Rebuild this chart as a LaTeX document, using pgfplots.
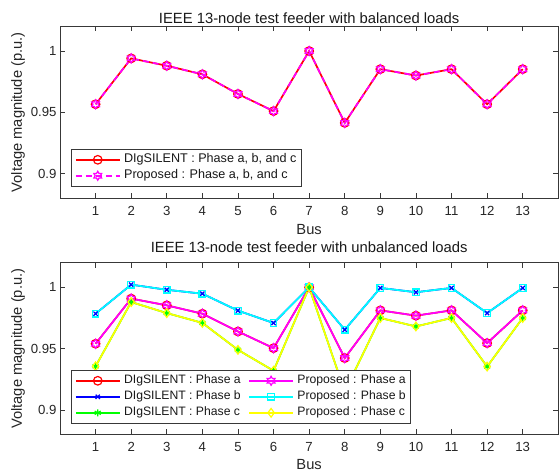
\documentclass[border=0pt]{standalone}
\usepackage{fontspec}
\setmainfont{Liberation Sans}
\usepackage{pgfplots}
\usepackage{pgfplotstable}
\pgfplotsset{compat=1.18}

\definecolor{mred}{rgb}{1,0,0}
\definecolor{mblue}{rgb}{0,0,1}
\definecolor{mgreen}{rgb}{0,1,0}
\definecolor{mmag}{rgb}{1,0,1}
\definecolor{mcyan}{rgb}{0,1,1}
\definecolor{myel}{rgb}{1,1,0}

\pgfdeclareplotmark{hexagram}{%
  \pgfpathmoveto{\pgfpointpolar{90}{\pgfplotmarksize}}%
  \pgfpathlineto{\pgfpointpolar{120}{0.577\pgfplotmarksize}}%
  \pgfpathlineto{\pgfpointpolar{150}{\pgfplotmarksize}}%
  \pgfpathlineto{\pgfpointpolar{180}{0.577\pgfplotmarksize}}%
  \pgfpathlineto{\pgfpointpolar{210}{\pgfplotmarksize}}%
  \pgfpathlineto{\pgfpointpolar{240}{0.577\pgfplotmarksize}}%
  \pgfpathlineto{\pgfpointpolar{270}{\pgfplotmarksize}}%
  \pgfpathlineto{\pgfpointpolar{300}{0.577\pgfplotmarksize}}%
  \pgfpathlineto{\pgfpointpolar{330}{\pgfplotmarksize}}%
  \pgfpathlineto{\pgfpointpolar{0}{0.577\pgfplotmarksize}}%
  \pgfpathlineto{\pgfpointpolar{30}{\pgfplotmarksize}}%
  \pgfpathlineto{\pgfpointpolar{60}{0.577\pgfplotmarksize}}%
  \pgfpathclose
  \pgfusepathqstroke}

\pgfplotstableread{
bus v
1 0.9566
2 0.9940
3 0.9880
4 0.9810
5 0.9650
6 0.9510
7 1.0000
8 0.9414
9 0.9852
10 0.9800
11 0.9852
12 0.9566
13 0.9852
}\balanced

\pgfplotstableread{
bus a b c
1 0.9540 0.9785 0.9356
2 0.9908 1.0022 0.9880
3 0.9853 0.9980 0.9790
4 0.9785 0.9948 0.9710
5 0.9640 0.9810 0.9490
6 0.9504 0.9709 0.9320
7 1.0000 1.0000 1.0000
8 0.9423 0.9654 0.9150
9 0.9812 0.9995 0.9750
10 0.9769 0.9960 0.9681
11 0.9812 0.9995 0.9750
12 0.9545 0.9790 0.9354
13 0.9812 0.9995 0.9750
}\unbalanced

\pgfplotsset{
  myaxis/.style={
    scale only axis, width=498.3bp, height=171.7bp,
    xmin=0, xmax=14, ymin=0.88, ymax=1.02,
    xtick={1,...,13}, ytick={0.9,0.95,1}, yticklabels={0.9,0.95,1},
    axis line style={black!78, line width=0.8bp},
    every tick/.style={black!78, line width=0.7bp},
    major tick length=5bp,
    /pgf/number format/assume math mode=true,
    tick label style={font=\fontsize{13.2bp}{15bp}\selectfont, text=black!85},
    xticklabel style={yshift=-4.5bp},
    label style={font=\fontsize{14.7bp}{17bp}\selectfont, text=black!85},
    xlabel=Bus, ylabel={Voltage magnitude (p.u.)},
    ylabel style={at={(axis description cs:-0.0843,0.5)}, anchor=center},
    title style={font=\fontsize{14.8bp}{17bp}\selectfont, text=black!90, anchor=base, yshift=-7.5bp},
    every axis plot/.append style={line width=1.7bp, mark options={line width=1.2bp}},
    legend cell align=left,
    legend image code/.code={\draw[mark repeat=2,mark phase=2,#1] plot coordinates {(0bp,0bp) (22bp,0bp) (44bp,0bp)};},
    legend style={draw=black!78, line width=0.8bp, fill=white, anchor=south west,
      inner xsep=3.5bp, inner ysep=3bp, row sep=1bp, column sep=2bp,
      nodes={inner sep=1.5bp, text height=9bp, text depth=3bp, text=black!90},
      /tikz/every even column/.append style={column sep=6bp}},
  }
}

\begin{document}
\begin{tikzpicture}
\useasboundingbox (0,0) rectangle (559bp,472bp);
\begin{axis}[myaxis, at={(60bp,273.8bp)}, anchor=south west,
  title={IEEE 13-node test feeder with balanced loads},
  title style={at={(axis description cs:0.5,1.027)}},
  xlabel style={at={(axis description cs:0.5,-0.214)}, anchor=base},
  legend style={at={(axis description cs:0.0221,0.067)}, font=\fontsize{12.6bp}{15bp}\selectfont}]
\addplot[mred, mark=o, mark size=4.3bp] table[x=bus,y=v]{\balanced};
\addlegendentry{DIgSILENT : Phase a, b, and c}
\addplot[mmag, dash pattern=on 6bp off 4bp, mark=hexagram, mark size=4.5bp, mark options={solid, line width=1.2bp}] table[x=bus,y=v]{\balanced};
\addlegendentry{Proposed : Phase a, b, and c}
\end{axis}

\begin{axis}[myaxis, at={(60bp,37.5bp)}, anchor=south west,
  title={IEEE 13-node test feeder with unbalanced loads},
  title style={at={(axis description cs:0.5,1.069)}},
  xlabel style={at={(axis description cs:0.5,-0.205)}, anchor=base},
  legend columns=2,
  legend style={at={(axis description cs:0.0221,0.063)}, font=\fontsize{12.2bp}{14bp}\selectfont}]
\addplot[mred, mark=o, mark size=4.3bp] table[x=bus,y=a]{\unbalanced};
\addlegendentry{DIgSILENT : Phase a}
\addplot[mmag, mark=hexagram, mark size=4.5bp] table[x=bus,y=a]{\unbalanced};
\addlegendentry{Proposed : Phase a}
\addplot[mblue, mark=x, mark size=3bp] table[x=bus,y=b]{\unbalanced};
\addlegendentry{DIgSILENT : Phase b}
\addplot[mcyan, mark=square, mark size=3.3bp] table[x=bus,y=b]{\unbalanced};
\addlegendentry{Proposed : Phase b}
\addplot[mgreen, mark=asterisk, mark size=3.5bp] table[x=bus,y=c]{\unbalanced};
\addlegendentry{DIgSILENT : Phase c}
\addplot[myel, mark=diamond, mark size=4.3bp] table[x=bus,y=c]{\unbalanced};
\addlegendentry{Proposed : Phase c}
\end{axis}
\end{tikzpicture}
\end{document}
